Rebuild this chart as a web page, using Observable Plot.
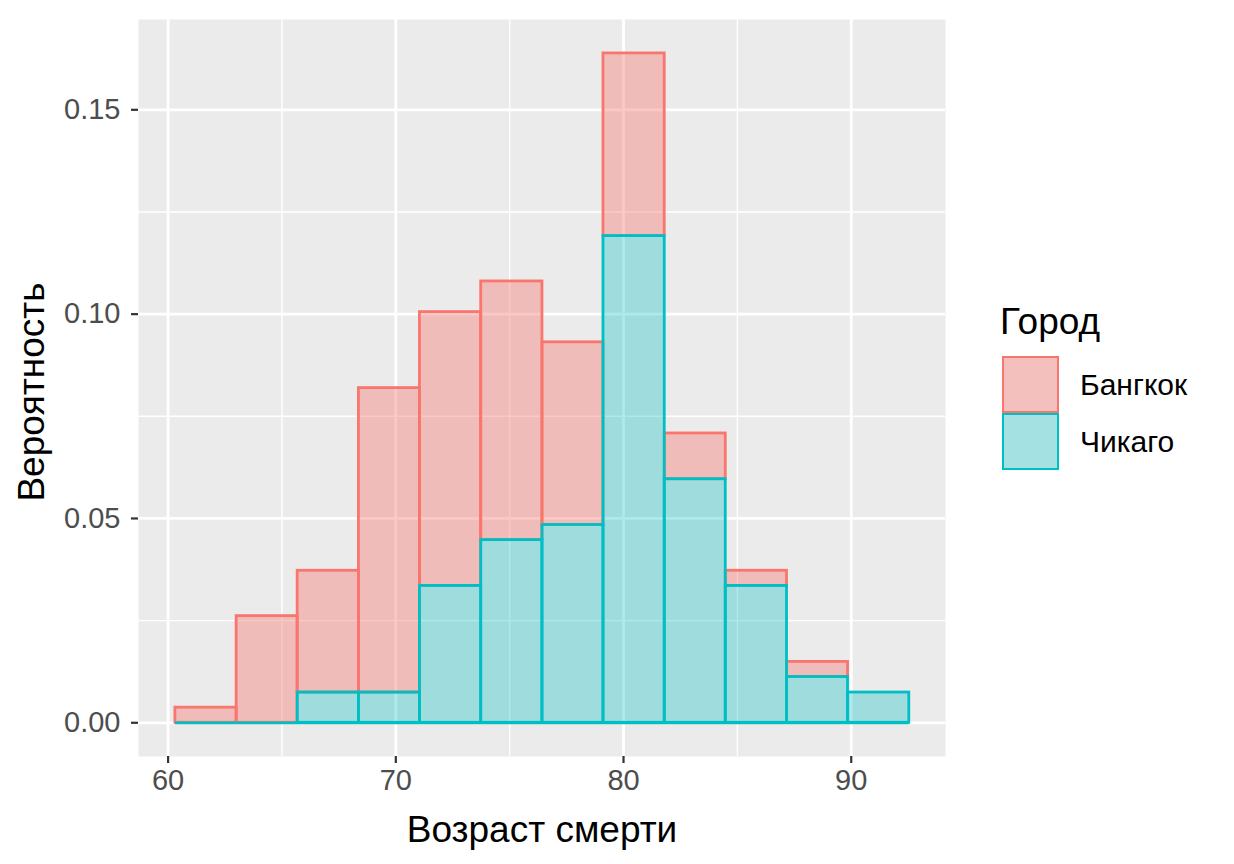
<!DOCTYPE html>
<html>
<head>
<meta charset="utf-8">
<script src="https://cdn.jsdelivr.net/npm/d3@7"></script>
<script src="https://cdn.jsdelivr.net/npm/@observablehq/plot@0.6"></script>
<style>
  html, body { margin: 0; padding: 0; background: #fff; }
  body { width: 1234px; height: 864px; position: relative; overflow: hidden; font-family: "Liberation Sans", Arial, sans-serif; }
  #chart { position: absolute; left: 0; top: 0; }
  #legend { position: absolute; left: 1002px; top: 298px; }
  #legend .title { font-size: 37px; color: #000; height: 58px; line-height: 48px; margin-left: -2px; }
  #legend .row { display: flex; align-items: center; height: 57px; }
  #legend .key { width: 57px; height: 57px; background: #F2F2F2; position: relative; margin: 0 21px 0 0; }
  #legend .key div { position: absolute; inset: 0; border: 2.8px solid; }
  #legend .lab { font-size: 30px; color: #000; }
</style>
</head>
<body>
<div id="chart"></div>
<div id="legend"></div>
<script>
// ---- data ----
const cities = ["Бангкок", "Чикаго"];
const colors = ["#F8766D", "#00BFC4"];
const fillAlpha = [0.4, 0.32];
const binEdges = [60.32, 63.01, 65.69, 68.38, 71.06, 73.75, 76.44, 79.12, 81.81, 84.49, 87.18, 89.86, 92.55];
// density per bin (stacked: Chicago bottom, Bangkok on top)
const bangkok = [0.0037, 0.0261, 0.0298, 0.0745, 0.0670, 0.0633, 0.0447, 0.0447, 0.0112, 0.0037, 0.0037, 0.0];
const chicago = [0.0, 0.0, 0.0074, 0.0074, 0.0335, 0.0447, 0.0484, 0.1191, 0.0596, 0.0335, 0.0112, 0.0074];
const xMajor = [60, 70, 80, 90];
const xMinor = [65, 75, 85];
const yMajor = [0, 0.05, 0.10, 0.15];
const yMinor = [0.025, 0.075, 0.125];
const xTitle = "Возраст смерти";
const yTitle = "Вероятность";
const legendTitle = "Город";

const series = [bangkok, chicago];
const rows = cities.flatMap((c, ci) => series[ci].map((v, i) => ({city: c, x1: binEdges[i], x2: binEdges[i + 1], y: v, a: fillAlpha[ci]})));
const chicagoRows = rows.filter(d => d.city === cities[1]);

const plot = Plot.plot({
  width: 1234,
  height: 864,
  marginLeft: 138,
  marginRight: 289,
  marginTop: 19,
  marginBottom: 108,
  style: {fontFamily: "'Liberation Sans', Arial, sans-serif", background: "transparent"},
  x: {domain: [58.70, 94.14]},
  y: {domain: [-0.00825, 0.1721]},
  color: {domain: cities, range: colors},
  opacity: {type: "identity"},
  marks: [
    Plot.frame({fill: "#EBEBEB", stroke: null}),
    Plot.ruleX(xMinor, {stroke: "white", strokeWidth: 1.4}),
    Plot.ruleY(yMinor, {stroke: "white", strokeWidth: 1.4}),
    Plot.ruleX(xMajor, {stroke: "white", strokeWidth: 2.8}),
    Plot.ruleY(yMajor, {stroke: "white", strokeWidth: 2.8}),
    Plot.rectY(rows, {x1: "x1", x2: "x2", y: "y", fill: "city", stroke: "city", fillOpacity: "a", strokeWidth: 2.8, order: [cities[1], cities[0]]}),
    Plot.ruleY(chicagoRows, {x1: "x1", x2: "x2", y: 0, stroke: colors[1], strokeWidth: 2.8}),
    Plot.axisX({ticks: xMajor, tickSize: 7, tickPadding: 6, fontSize: 29, fill: "#4D4D4D", stroke: "#333", strokeWidth: 2.2, label: null}),
    Plot.axisY({ticks: yMajor, tickFormat: d3.format(".2f"), tickSize: 7, tickPadding: 11, fontSize: 29, fill: "#4D4D4D", stroke: "#333", strokeWidth: 2.2, label: null}),
    Plot.text([xTitle], {frameAnchor: "bottom", dy: 85, fontSize: 37, fill: "#000", text: d => d}),
    Plot.text([yTitle], {frameAnchor: "left", textAnchor: "middle", dx: -106, dy: 4, rotate: -90, fontSize: 37, fill: "#000", text: d => d})
  ]
});
document.getElementById("chart").appendChild(plot);

// legend
const lg = document.getElementById("legend");
const t = document.createElement("div");
t.className = "title";
t.textContent = legendTitle;
lg.appendChild(t);
cities.forEach((c, i) => {
  const r = document.createElement("div");
  r.className = "row";
  const k = document.createElement("div");
  k.className = "key";
  const inner = document.createElement("div");
  const col = d3.color(colors[i]);
  inner.style.borderColor = colors[i];
  inner.style.background = `rgba(${col.r},${col.g},${col.b},${fillAlpha[i]})`;
  k.appendChild(inner);
  const l = document.createElement("div");
  l.className = "lab";
  l.textContent = c;
  r.appendChild(k);
  r.appendChild(l);
  lg.appendChild(r);
});
</script>
</body>
</html>
